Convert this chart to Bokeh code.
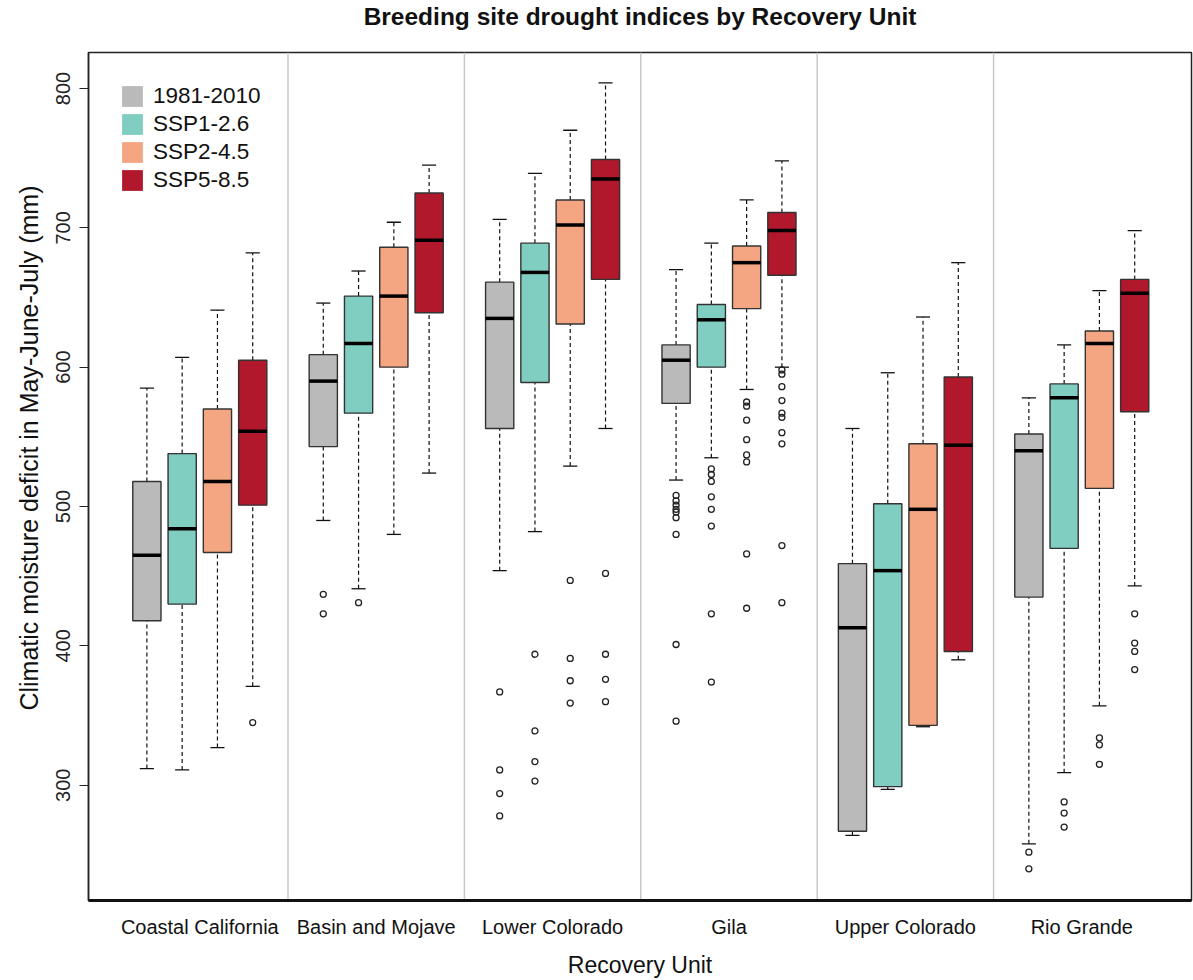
from bokeh.plotting import figure
from bokeh.models import Range1d, FixedTicker, Legend, LegendItem, Span, Title
from bokeh.embed import file_html
from bokeh.resources import INLINE

groups = ["Coastal California", "Basin and Mojave", "Lower Colorado", "Gila",
          "Upper Colorado", "Rio Grande"]
series = ["1981-2010", "SSP1-2.6", "SSP2-4.5", "SSP5-8.5"]
colors = ["#BABABA", "#80CDC1", "#F4A582", "#B2182B"]
yticks = [300, 400, 500, 600, 700, 800]

# five-number summaries per series (one value per Recovery Unit)
lo_1981 = [312, 490, 454, 519, 264, 258]
q1_1981 = [418, 543, 556, 574, 267, 435]
med_1981 = [465, 590, 635, 605, 413, 540]
q3_1981 = [518, 609, 661, 616, 459, 552]
hi_1981 = [585, 646, 706, 670, 556, 578]

lo_ssp1 = [311, 441, 482, 535, 297, 309]
q1_ssp1 = [430, 567, 589, 600, 299, 470]
med_ssp1 = [484, 617, 668, 634, 454, 578]
q3_ssp1 = [538, 651, 689, 645, 502, 588]
hi_ssp1 = [607, 669, 739, 689, 596, 616]

lo_ssp2 = [327, 480, 529, 584, 342, 357]
q1_ssp2 = [467, 600, 631, 642, 343, 513]
med_ssp2 = [518, 651, 702, 675, 498, 617]
q3_ssp2 = [570, 686, 720, 687, 545, 626]
hi_ssp2 = [641, 704, 770, 720, 636, 655]

lo_ssp5 = [371, 524, 556, 600, 390, 443]
q1_ssp5 = [501, 639, 663, 666, 396, 568]
med_ssp5 = [554, 691, 735, 698, 544, 653]
q3_ssp5 = [605, 725, 749, 711, 593, 663]
hi_ssp5 = [682, 745, 804, 748, 675, 698]

# outliers per series, per Recovery Unit
out_1981 = [[], [437, 423], [367, 311, 294, 278],
            [508, 504, 501, 498, 496, 492, 480, 401, 346], [], [252, 240]]
out_ssp1 = [[], [431], [394, 339, 317, 303],
            [527, 523, 518, 507, 498, 486, 423, 374], [], [288, 280, 270]]
out_ssp2 = [[], [], [447, 391, 375, 359],
            [575, 572, 562, 548, 537, 532, 466, 427], [], [334, 329, 315]]
out_ssp5 = [[345], [], [452, 394, 376, 360],
            [598, 595, 586, 576, 567, 564, 553, 545, 472, 431], [], [423, 402, 396, 383]]

stats = [
    (lo_1981, q1_1981, med_1981, q3_1981, hi_1981, out_1981),
    (lo_ssp1, q1_ssp1, med_ssp1, q3_ssp1, hi_ssp1, out_ssp1),
    (lo_ssp2, q1_ssp2, med_ssp2, q3_ssp2, hi_ssp2, out_ssp2),
    (lo_ssp5, q1_ssp5, med_ssp5, q3_ssp5, hi_ssp5, out_ssp5),
]

FONT = "Liberation Sans"

p = figure(width=1193, height=980, output_backend="svg", toolbar_location=None,
           x_range=Range1d(-0.655, 30.61), y_range=Range1d(217.3, 825.8),
           min_border_left=88, min_border_right=2, min_border_top=52,
           min_border_bottom=78)
p.background_fill_color = "white"
p.border_fill_color = "white"
p.xgrid.visible = False
p.ygrid.visible = False
p.outline_line_color = "#222222"
p.outline_line_width = 1.5

# separators between recovery units
for k in range(1, len(groups)):
    p.add_layout(Span(location=5 * k, dimension="height", line_color="#C8C8C8",
                      line_width=1.5, level="underlay"))

BW = 0.8
items = []
for s, (lo, q1, med, q3, hi, outs) in enumerate(stats):
    xs = [5 * g + s + 1 for g in range(len(groups))]
    # whiskers
    p.segment(x0=xs, y0=q3, x1=xs, y1=hi, line_color="#111111", line_width=1.2,
              line_dash="4 3")
    p.segment(x0=xs, y0=lo, x1=xs, y1=q1, line_color="#111111", line_width=1.2,
              line_dash="4 3")
    # caps
    p.segment(x0=[x - BW / 4 for x in xs], y0=hi, x1=[x + BW / 4 for x in xs], y1=hi,
              line_color="#111111", line_width=1.3)
    p.segment(x0=[x - BW / 4 for x in xs], y0=lo, x1=[x + BW / 4 for x in xs], y1=lo,
              line_color="#111111", line_width=1.3)
    # fill-only boxes (also used as legend keys)
    r_fill = p.vbar(x=xs, width=BW, bottom=q1, top=q3, fill_color=colors[s],
                    line_color=None)
    items.append(LegendItem(label=series[s], renderers=[r_fill]))
    # box outlines
    p.vbar(x=xs, width=BW, bottom=q1, top=q3, fill_color=None,
           line_color="#333333", line_width=1.4)
    # medians
    p.segment(x0=[x - BW / 2 for x in xs], y0=med, x1=[x + BW / 2 for x in xs], y1=med,
              line_color="black", line_width=3.5)
    # outliers
    ox, oy = [], []
    for g, vals in enumerate(outs):
        for v in vals:
            ox.append(xs[g])
            oy.append(v)
    p.scatter(x=ox, y=oy, size=6, marker="circle", fill_color=None,
              line_color="#222222", line_width=1.3)

legend = Legend(items=items, location="top_left", margin=31, padding=10,
                glyph_width=26, glyph_height=26, spacing=2, label_standoff=8,
                label_text_font=FONT, label_text_font_size="22.5px",
                label_height=26, label_text_color="#111111", border_line_color=None,
                background_fill_alpha=0)
p.add_layout(legend)

# title: an empty spacer next to the frame, then the main title above it
spacer = Title(text=" ", text_font=FONT, text_font_size="10px", standoff=8)
p.add_layout(spacer, "above")
main_title = Title(text="Breeding site drought indices by Recovery Unit",
                   align="center", vertical_align="top", standoff=0,
                   text_font=FONT, text_font_size="24.5px", text_font_style="bold",
                   text_color="#111111")
p.add_layout(main_title, "above")

# axes
p.xaxis.ticker = FixedTicker(ticks=[5 * g + 2.5 for g in range(len(groups))])
p.xaxis.major_label_overrides = {5 * g + 2.5: groups[g] for g in range(len(groups))}
p.xaxis.major_tick_line_color = None
p.xaxis.minor_tick_line_color = None
p.xaxis.axis_line_width = 3
p.xaxis.axis_line_color = "#111111"
p.xaxis.major_label_text_font = FONT
p.xaxis.major_label_text_font_size = "20px"
p.xaxis.major_label_text_color = "#111111"
p.xaxis.major_label_standoff = 9
p.xaxis.axis_label = "Recovery Unit"
p.xaxis.axis_label_text_font = FONT
p.xaxis.axis_label_text_font_size = "23px"
p.xaxis.axis_label_text_font_style = "normal"
p.xaxis.axis_label_text_color = "#111111"
p.xaxis.axis_label_standoff = 11

p.yaxis.ticker = FixedTicker(ticks=yticks)
p.yaxis.minor_tick_line_color = None
p.yaxis.major_tick_out = 9
p.yaxis.major_tick_in = 0
p.yaxis.major_tick_line_color = "#222222"
p.yaxis.axis_line_color = "#222222"
p.yaxis.axis_line_width = 1.5
p.yaxis.major_label_orientation = "vertical"
p.yaxis.major_label_text_font = FONT
p.yaxis.major_label_text_font_size = "20px"
p.yaxis.major_label_text_color = "#222222"
p.yaxis.major_label_standoff = 9

# y axis title, its upper end placed as in the original
ytitle = Title(text="Climatic moisture deficit in May-June-July (mm)", align="right",
               offset=133, standoff=22, text_font=FONT, text_font_size="25px",
               text_font_style="normal", text_color="#111111")
p.add_layout(ytitle, "left")

open("out.html", "w").write(file_html(p, INLINE))
